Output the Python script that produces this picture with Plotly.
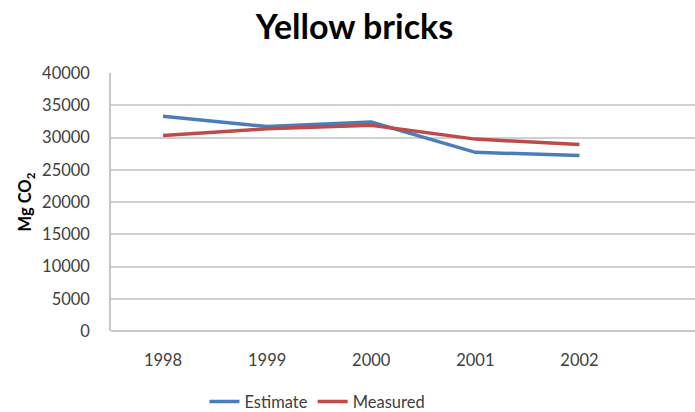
import plotly.graph_objects as go

years = ["1998", "1999", "2000", "2001", "2002"]
estimate = [33300, 31700, 32400, 27700, 27200]
measured = [30300, 31350, 31900, 29750, 28900]
y_ticks = [0, 5000, 10000, 15000, 20000, 25000, 30000, 35000, 40000]

font_family = "Lato, Open Sans, sans-serif"

fig = go.Figure()
fig.add_trace(go.Scatter(x=list(range(len(years))), y=estimate, name="Estimate",
                         mode="lines", line=dict(color="#4A7EBB", width=3.5)))
fig.add_trace(go.Scatter(x=list(range(len(years))), y=measured, name="Measured",
                         mode="lines", line=dict(color="#BE4B48", width=3.5)))

fig.update_layout(
    width=695, height=412,
    margin=dict(l=111, r=0, t=73, b=81, autoexpand=False),
    paper_bgcolor="white", plot_bgcolor="white",
    font=dict(family=font_family, color="#404040", size=16.5),
    title=dict(text="<b>Yellow bricks</b>", x=0.51, xanchor="center",
               y=0.935, yanchor="middle",
               font=dict(family=font_family, size=34, color="#000000")),
    showlegend=True,
    legend=dict(orientation="h", x=0.16, xanchor="left",
                yref="container", y=0.025, yanchor="middle",
                font=dict(size=16.5, color="#404040"), itemwidth=30,
                tracegroupgap=0),
    xaxis=dict(tickmode="array", tickvals=list(range(len(years))), ticktext=years,
               range=[-0.5, 5.11], showgrid=False, zeroline=False, showline=False,
               ticks="", ticklabelstandoff=17),
    yaxis=dict(range=[0, 40000], tickmode="array", tickvals=y_ticks,
               ticktext=[str(v) for v in y_ticks],
               showgrid=True, gridcolor="#D0D0D0", gridwidth=1.5,
               zeroline=True, zerolinecolor="#C8C8C8", zerolinewidth=1.5,
               showline=True, linecolor="#C8C8C8", linewidth=1.5,
               ticks="", ticklabelstandoff=16,
               title=dict(text="<b>Mg CO<sub>2</sub></b>", standoff=6,
                          font=dict(size=16.5, color="#000000"))),
)

fig.write_html("out.html")
